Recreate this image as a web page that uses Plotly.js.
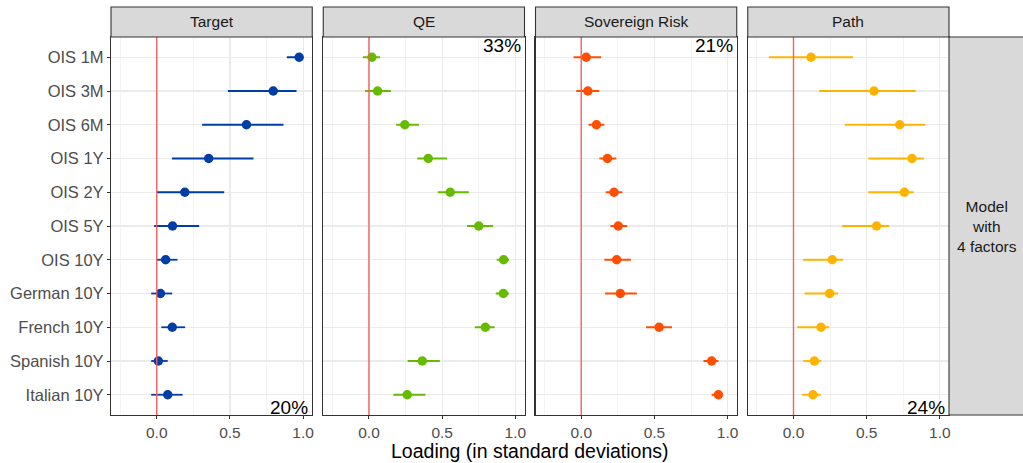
<!DOCTYPE html>
<html>
<head>
<meta charset="utf-8">
<script src="https://cdn.plot.ly/plotly-3.0.1.min.js"></script>
<style>
  html, body { margin: 0; padding: 0; background: #ffffff; }
  #chart { width: 1023px; height: 463px; }
</style>
</head>
<body>
<div id="chart"></div>
<script>
// Instruments (rows, top to bottom)
const instruments = ["OIS 1M", "OIS 3M", "OIS 6M", "OIS 1Y", "OIS 2Y", "OIS 5Y",
                     "OIS 10Y", "German 10Y", "French 10Y", "Spanish 10Y", "Italian 10Y"];

// Factor names, colours and share of explained variance
const factors = ["Target", "QE", "Sovereign Risk", "Path"];
const factorColors = ["#003DA5", "#66BB00", "#FF4E00", "#FFB300"];
const varianceShare = ["20%", "33%", "21%", "24%"];

// Loadings: point estimate with lower / upper interval bounds
const targetEst   = [0.973, 0.796, 0.613, 0.355, 0.192, 0.108, 0.061, 0.025, 0.106, 0.011, 0.075];
const targetLow   = [0.889, 0.486, 0.310, 0.104, 0.000, -0.018, 0.000, -0.038, 0.031, -0.038, -0.038];
const targetHigh  = [0.995, 0.955, 0.866, 0.661, 0.461, 0.290, 0.142, 0.106, 0.194, 0.075, 0.177];

const qeEst       = [0.020, 0.059, 0.245, 0.405, 0.555, 0.750, 0.920, 0.918, 0.795, 0.364, 0.261];
const qeLow       = [-0.041, -0.027, 0.186, 0.330, 0.470, 0.670, 0.873, 0.866, 0.723, 0.264, 0.166];
const qeHigh      = [0.075, 0.150, 0.341, 0.534, 0.682, 0.848, 0.957, 0.957, 0.859, 0.484, 0.386];

const srEst       = [0.034, 0.045, 0.104, 0.179, 0.224, 0.253, 0.242, 0.267, 0.532, 0.891, 0.937];
const srLow       = [-0.052, -0.034, 0.050, 0.124, 0.167, 0.199, 0.158, 0.163, 0.443, 0.835, 0.891];
const srHigh      = [0.136, 0.124, 0.158, 0.240, 0.281, 0.314, 0.339, 0.380, 0.620, 0.937, 0.964];

const pathEst     = [0.120, 0.550, 0.726, 0.810, 0.758, 0.568, 0.265, 0.247, 0.188, 0.143, 0.133];
const pathLow     = [-0.167, 0.176, 0.351, 0.511, 0.511, 0.333, 0.066, 0.075, 0.025, 0.066, 0.059];
const pathHigh    = [0.407, 0.835, 0.900, 0.891, 0.821, 0.654, 0.339, 0.305, 0.244, 0.190, 0.186];

const estimates = [targetEst, qeEst, srEst, pathEst];
const lows      = [targetLow, qeLow, srLow, pathLow];
const highs     = [targetHigh, qeHigh, srHigh, pathHigh];

// Axis ticks
const majorTicks = [0.0, 0.5, 1.0];
const majorTickText = ["0.0", "0.5", "1.0"];
const minorTicks = [-0.25, 0.25, 0.75];

// Facet geometry (paper fractions of the plotting width)
const nPanels = 4;
const gapFrac = 11 / 838;
const panelFrac = (1 - gapFrac * (nPanels - 1)) / nPanels;
const domains = [];
for (let i = 0; i < nPanels; i++) {
  const start = i * (panelFrac + gapFrac);
  domains.push([start, Math.min(1, start + panelFrac)]);
}

const FONT = "Liberation Sans, Arial, sans-serif";
const traces = [];
const layout = {
  width: 1023,
  height: 463,
  margin: { l: 111, r: 74, t: 37, b: 48, pad: 0 },
  paper_bgcolor: "#ffffff",
  plot_bgcolor: "#ffffff",
  showlegend: false,
  font: { family: FONT, color: "#4D4D4D", size: 15.5 },
  shapes: [],
  annotations: []
};

for (let i = 0; i < nPanels; i++) {
  const suffix = i === 0 ? "" : String(i + 1);
  const xName = "x" + suffix;
  const yName = "y" + suffix;

  const est = estimates[i];
  const plus = est.map((v, k) => highs[i][k] - v);
  const minus = est.map((v, k) => v - lows[i][k]);

  // Zero reference line, drawn as a trace so it sits above the grid
  traces.push({
    type: "scatter",
    mode: "lines",
    x: [0, 0],
    y: [0, 1],
    xaxis: xName,
    yaxis: "y" + (nPanels + i + 1),
    line: { color: "#F8605E", width: 1.4 },
    hoverinfo: "skip"
  });

  traces.push({
    type: "scatter",
    mode: "markers",
    x: est,
    y: instruments,
    xaxis: xName,
    yaxis: yName,
    marker: { color: factorColors[i], size: 9.5, line: { width: 0 } },
    error_x: {
      type: "data",
      symmetric: false,
      array: plus,
      arrayminus: minus,
      color: factorColors[i],
      thickness: 1.8,
      width: 0
    },
    hoverinfo: "x+y"
  });

  layout["xaxis" + suffix] = {
    domain: domains[i],
    anchor: yName,
    range: [-0.3125, 1.0625],
    tickmode: "array",
    tickvals: majorTicks,
    ticktext: majorTickText,
    ticks: "outside",
    ticklen: 3,
    tickwidth: 1,
    tickcolor: "#333333",
    tickfont: { size: 15.5, color: "#4D4D4D" },
    showgrid: true,
    gridcolor: "#EBEBEB",
    gridwidth: 1.2,
    minor: { tickvals: minorTicks, showgrid: true, gridcolor: "#EFEFEF", gridwidth: 0.7, ticks: "" },
    zeroline: false,
    showline: true,
    mirror: true,
    linecolor: "#333333",
    linewidth: 1.1,
    fixedrange: true
  };

  layout["yaxis" + suffix] = {
    domain: [0, 1],
    anchor: xName,
    type: "category",
    categoryorder: "array",
    categoryarray: instruments,
    range: [instruments.length - 1 + 0.6, -0.6],
    showticklabels: i === 0,
    ticks: i === 0 ? "outside" : "",
    ticklen: 3,
    tickwidth: 1,
    tickcolor: "#333333",
    tickfont: { size: 16.5, color: "#4D4D4D" },
    showgrid: true,
    gridcolor: "#EBEBEB",
    gridwidth: 1.2,
    zeroline: false,
    showline: true,
    mirror: true,
    linecolor: "#333333",
    linewidth: 1.1,
    fixedrange: true
  };
  if (i > 0) layout["yaxis" + suffix].matches = "y";

  // Hidden overlay axis spanning the panel height for the zero line
  layout["yaxis" + (nPanels + i + 1)] = {
    domain: [0, 1],
    anchor: xName,
    overlaying: yName,
    range: [0, 1],
    visible: false,
    showgrid: false,
    zeroline: false,
    fixedrange: true
  };

  // Facet strip on top
  layout.shapes.push({
    type: "rect",
    xref: "paper", yref: "paper",
    x0: domains[i][0], x1: domains[i][1],
    y0: 1, y1: 1 + 30 / 378,
    fillcolor: "#D9D9D9",
    line: { color: "#333333", width: 1.1 },
    layer: "above"
  });
  layout.annotations.push({
    xref: "paper", yref: "paper",
    x: (domains[i][0] + domains[i][1]) / 2,
    y: 1 + 15 / 378,
    text: factors[i],
    showarrow: false,
    xanchor: "center", yanchor: "middle",
    font: { size: 15.5, color: "#1A1A1A" }
  });

  // Share of variance explained, placed in a free corner of the panel
  const atTop = (i === 1 || i === 2);
  layout.annotations.push({
    xref: xName + " domain", yref: yName + " domain",
    x: 1, y: atTop ? 1 : 0,
    text: varianceShare[i],
    showarrow: false,
    xanchor: "right", yanchor: atTop ? "top" : "bottom",
    xshift: -2, yshift: atTop ? 4 : -5,
    font: { size: 19, color: "#000000" }
  });
}

// Row strip on the right
layout.shapes.push({
  type: "rect",
  xref: "paper", yref: "paper",
  x0: 1, x1: 1 + 90 / 838,
  y0: 0, y1: 1,
  fillcolor: "#D9D9D9",
  line: { color: "#333333", width: 1.1 },
  layer: "above"
});
layout.annotations.push({
  xref: "paper", yref: "paper",
  x: 1 + 38 / 838, y: 0.5,
  text: "Model<br>with<br>4 factors",
  showarrow: false,
  xanchor: "center", yanchor: "middle",
  align: "center",
  font: { size: 15.5, color: "#1A1A1A" }
});

// Shared x-axis title
layout.annotations.push({
  xref: "paper", yref: "paper",
  x: 0.5, y: -36 / 378,
  text: "Loading (in standard deviations)",
  showarrow: false,
  xanchor: "center", yanchor: "middle",
  font: { size: 19.5, color: "#000000" }
});

Plotly.newPlot("chart", traces, layout, { displayModeBar: false, staticPlot: true });
</script>
</body>
</html>
